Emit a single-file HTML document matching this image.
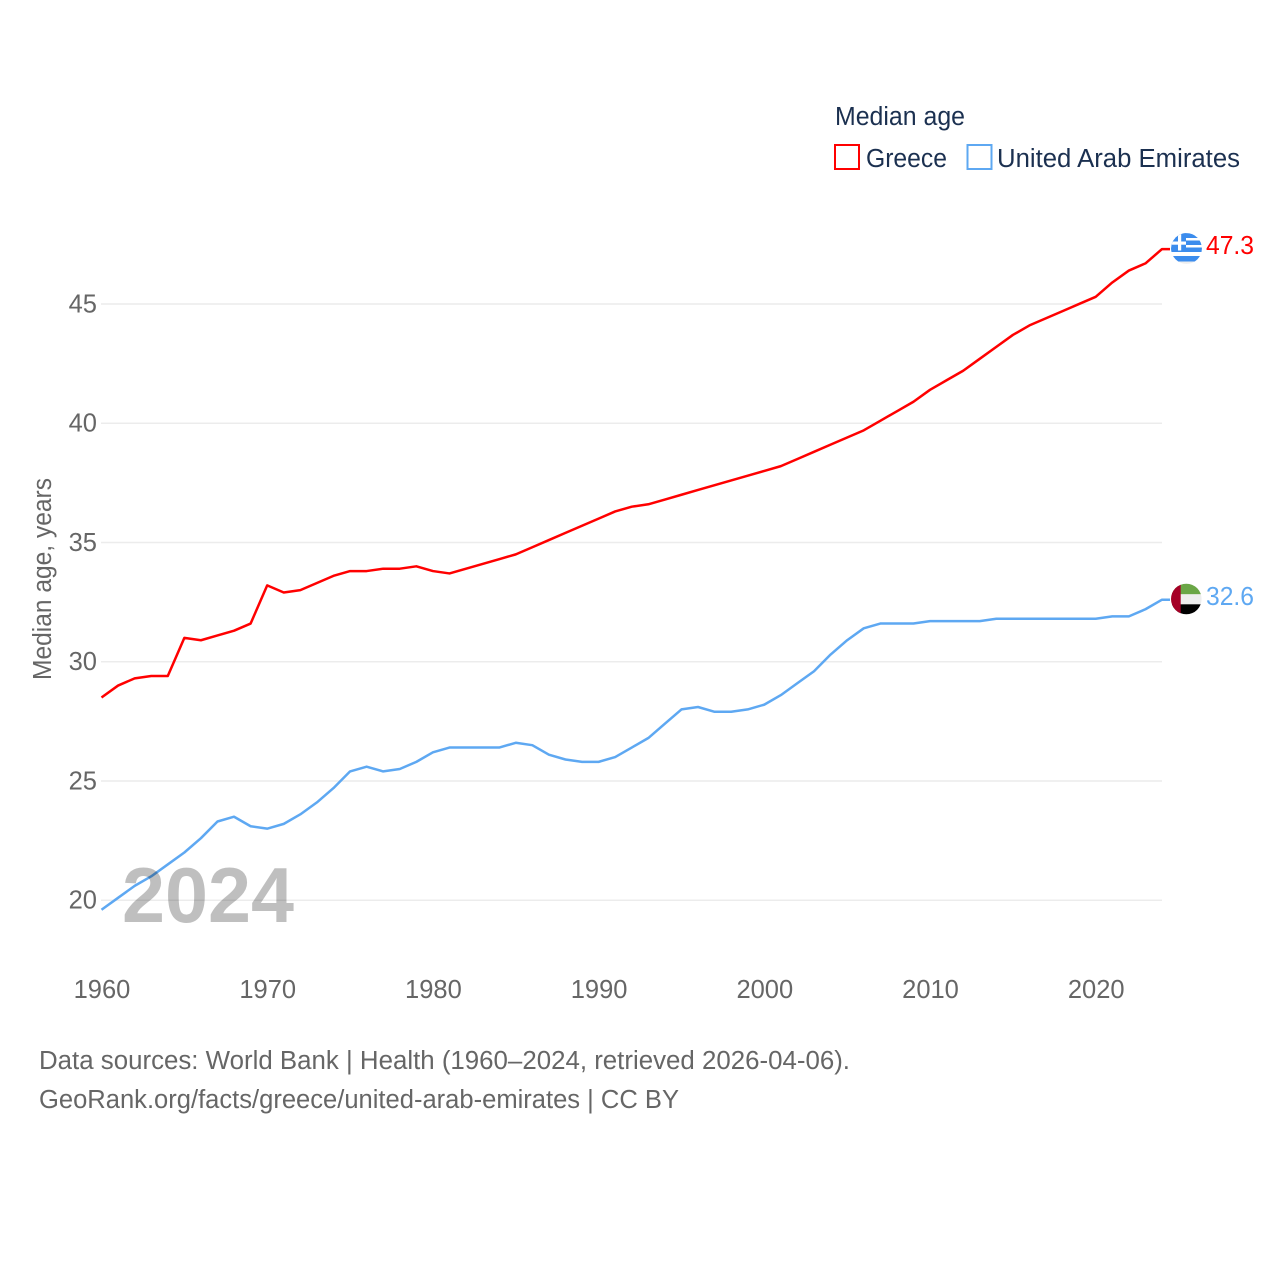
<!DOCTYPE html>
<html lang="en">
<head>
<meta charset="utf-8">
<title>Median age: Greece and United Arab Emirates</title>
<style>
html,body{margin:0;padding:0;background:#fff;width:1280px;height:1280px;overflow:hidden}
svg{display:block}
text{font-family:"Liberation Sans",sans-serif}
.tick{font-size:25.5px;fill:#666}
.foot{font-size:25.5px;fill:#666}
.leg{font-size:25.5px;fill:#1b3050}
</style>
</head>
<body>
<svg id="chart" width="1280" height="1280" viewBox="0 0 1280 1280" xmlns="http://www.w3.org/2000/svg">
  <defs>
    <clipPath id="clip-gr"><circle cx="1186.5" cy="248.5" r="15.4"/></clipPath>
    <clipPath id="clip-ae"><circle cx="1186.3" cy="599" r="15.3"/></clipPath>
  </defs>
  <g id="grid"></g>
  <g id="yticks"></g>
  <g id="xticks"></g>
  <text class="tick" transform="translate(51,579) rotate(-90)" text-anchor="middle" textLength="202" lengthAdjust="spacingAndGlyphs">Median age, years</text>
  <path id="line-greece" fill="none" stroke="#ff0000" stroke-width="2.5" stroke-linejoin="round"/>
  <path id="line-uae" fill="none" stroke="#5ea8f2" stroke-width="2.5" stroke-linejoin="round"/>
  <text x="122" y="922" font-size="78" font-weight="bold" fill="#000" fill-opacity="0.25" textLength="172" lengthAdjust="spacingAndGlyphs">2024</text>

  <g clip-path="url(#clip-gr)">
    <rect x="1170" y="232" width="34" height="34" fill="#ffffff"/>
    <rect x="1170" y="232" width="34" height="6" fill="#3b8ced"/>
    <rect x="1170" y="240.5" width="34" height="4.5" fill="#3b8ced"/>
    <rect x="1170" y="247.5" width="34" height="4.5" fill="#3b8ced"/>
    <rect x="1170" y="256" width="34" height="5.5" fill="#3b8ced"/>
    <rect x="1170" y="261.5" width="34" height="4" fill="#eeeeee"/>
    <rect x="1170" y="232" width="16" height="18.5" fill="#3b8ced"/>
    <rect x="1178" y="232" width="3.2" height="18.5" fill="#ffffff"/>
    <rect x="1170" y="241.5" width="16" height="3.2" fill="#ffffff"/>
  </g>
  <text x="1206" y="254" font-size="25.5" fill="#ff0000" textLength="48" lengthAdjust="spacingAndGlyphs">47.3</text>

  <g clip-path="url(#clip-ae)">
    <rect x="1170" y="583" width="34" height="11.3" fill="#6aa646"/>
    <rect x="1170" y="594.3" width="34" height="10" fill="#eeeeee"/>
    <rect x="1170" y="604.3" width="34" height="12" fill="#000000"/>
    <rect x="1170" y="583" width="10.7" height="33" fill="#a50026"/>
  </g>
  <text x="1206" y="605" font-size="25.5" fill="#5ea8f2" textLength="48" lengthAdjust="spacingAndGlyphs">32.6</text>

  <g>
    <text class="leg" x="835" y="125" textLength="130" lengthAdjust="spacingAndGlyphs">Median age</text>
    <g>
      <rect x="835" y="145" width="24" height="24" fill="none" stroke="#ff0000" stroke-width="2"/>
      <text class="leg" x="866" y="167" textLength="81" lengthAdjust="spacingAndGlyphs">Greece</text>
    </g>
    <g>
      <rect x="967.5" y="145" width="24" height="24" fill="none" stroke="#5ea8f2" stroke-width="2"/>
      <text class="leg" x="997" y="167" textLength="243" lengthAdjust="spacingAndGlyphs">United Arab Emirates</text>
    </g>
  </g>

  <text class="foot" x="39" y="1069" textLength="811" lengthAdjust="spacingAndGlyphs">Data sources: World Bank | Health (1960–2024, retrieved 2026-04-06).</text>
  <text class="foot" x="39" y="1108" textLength="640" lengthAdjust="spacingAndGlyphs">GeoRank.org/facts/greece/united-arab-emirates | CC BY</text>
</svg>
<script>
const startYear = 1960;
const greeceValues = [28.5,29.0,29.3,29.4,29.4,31.0,30.9,31.1,31.3,31.6,33.2,32.9,33.0,33.3,33.6,33.8,33.8,33.9,33.9,34.0,33.8,33.7,33.9,34.1,34.3,34.5,34.8,35.1,35.4,35.7,36.0,36.3,36.5,36.6,36.8,37.0,37.2,37.4,37.6,37.8,38.0,38.2,38.5,38.8,39.1,39.4,39.7,40.1,40.5,40.9,41.4,41.8,42.2,42.7,43.2,43.7,44.1,44.4,44.7,45.0,45.3,45.9,46.4,46.7,47.3];
const uaeValues = [19.6,20.1,20.6,21.0,21.5,22.0,22.6,23.3,23.5,23.1,23.0,23.2,23.6,24.1,24.7,25.4,25.6,25.4,25.5,25.8,26.2,26.4,26.4,26.4,26.4,26.6,26.5,26.1,25.9,25.8,25.8,26.0,26.4,26.8,27.4,28.0,28.1,27.9,27.9,28.0,28.2,28.6,29.1,29.6,30.3,30.9,31.4,31.6,31.6,31.6,31.7,31.7,31.7,31.7,31.8,31.8,31.8,31.8,31.8,31.8,31.8,31.9,31.9,32.2,32.6];
const yTickValues = [20,25,30,35,40,45];
const xTickYears = [1960,1970,1980,1990,2000,2010,2020];

const NS = 'http://www.w3.org/2000/svg';
function xScale(year){ return 101.5 + (year - 1960) * (1162 - 101.5) / 64; }
function yScale(v){ return 900.2 - (v - 20) * 23.85; }
function linePath(values){
  let d = '';
  values.forEach(function(v, i){
    d += (i ? 'L' : 'M') + xScale(startYear + i).toFixed(2) + ' ' + yScale(v).toFixed(2);
  });
  const last = values[values.length - 1];
  d += 'L1170 ' + yScale(last).toFixed(2);
  return d;
}
document.getElementById('line-greece').setAttribute('d', linePath(greeceValues));
document.getElementById('line-uae').setAttribute('d', linePath(uaeValues));

const grid = document.getElementById('grid');
const yticks = document.getElementById('yticks');
const xticks = document.getElementById('xticks');
yTickValues.forEach(function(v){
  const l = document.createElementNS(NS, 'line');
  
  
  l.setAttribute('x1', 101);
  l.setAttribute('x2', 1162);
  l.setAttribute('y1', yScale(v));
  l.setAttribute('y2', yScale(v));
  l.setAttribute('stroke', '#ececec');
  l.setAttribute('stroke-width', '1.5');
  grid.appendChild(l);
  const t = document.createElementNS(NS, 'text');
  
  
  t.setAttribute('class', 'tick');
  t.setAttribute('x', 97);
  t.setAttribute('y', yScale(v) + 8.5);
  t.setAttribute('text-anchor', 'end');
  t.textContent = v;
  yticks.appendChild(t);
});
xTickYears.forEach(function(y){
  const t = document.createElementNS(NS, 'text');
  
  
  t.setAttribute('class', 'tick');
  t.setAttribute('x', xScale(y) + 0.5);
  t.setAttribute('y', 998);
  t.setAttribute('text-anchor', 'middle');
  t.textContent = y;
  xticks.appendChild(t);
});
</script>
</body>
</html>
